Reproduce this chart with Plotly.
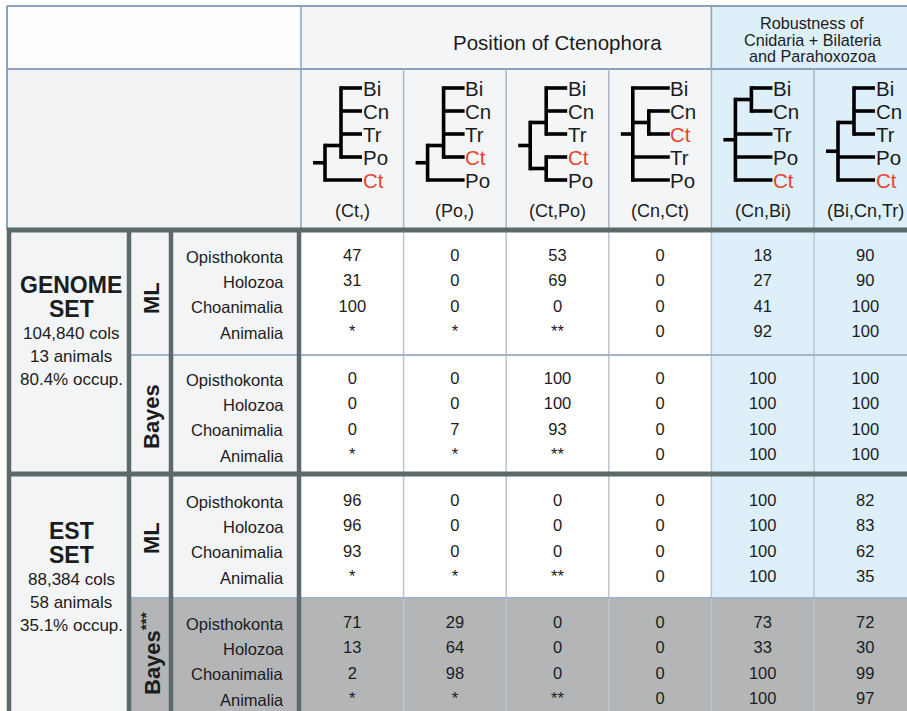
import plotly.graph_objects as go

# ---------------- data ----------------
header_title = "Position of Ctenophora"
robust_title = ["Robustness of", "Cnidaria + Bilateria", "and Parahoxozoa"]
tree_captions = ["(Ct,)", "(Po,)", "(Ct,Po)", "(Cn,Ct)", "(Cn,Bi)", "(Bi,Cn,Tr)"]
tree_topologies = [
    [["Bi", "Cn", "Tr", "Po"], "Ct"],
    [["Bi", "Cn", "Tr", "Ct"], "Po"],
    [["Bi", "Cn", "Tr"], ["Ct", "Po"]],
    ["Bi", ["Cn", "Ct"], "Tr", "Po"],
    [["Bi", "Cn"], "Tr", "Po", "Ct"],
    [["Bi", "Cn", "Tr"], "Po", "Ct"],
]
highlight_taxon = "Ct"
outgroups = ["Opisthokonta", "Holozoa", "Choanimalia", "Animalia"]
set_names = [["GENOME", "SET"], ["EST", "SET"]]
genome_info = ["104,840 cols", "13 animals", "80.4% occup."]
est_info = ["88,384 cols", "58 animals", "35.1% occup."]
methods = ["ML", "Bayes", "ML", "Bayes<sup>***</sup>"]

# support values, 16 rows each: GENOME-ML, GENOME-Bayes, EST-ML, EST-Bayes (x 4 outgroups)
vals_ct = ["47", "31", "100", "*", "0", "0", "0", "*", "96", "96", "93", "*", "71", "13", "2", "*"]
vals_po = ["0", "0", "0", "*", "0", "0", "7", "*", "0", "0", "0", "*", "29", "64", "98", "*"]
vals_ctpo = ["53", "69", "0", "**", "100", "100", "93", "**", "0", "0", "0", "**", "0", "0", "0", "**"]
vals_cnct = ["0", "0", "0", "0", "0", "0", "0", "0", "0", "0", "0", "0", "0", "0", "0", "0"]
vals_cnbi = ["18", "27", "41", "92", "100", "100", "100", "100", "100", "100", "100", "100", "73", "33", "100", "100"]
vals_bicntr = ["90", "90", "100", "100", "100", "100", "100", "100", "82", "83", "62", "35", "72", "30", "99", "97"]
columns = [vals_ct, vals_po, vals_ctpo, vals_cnct, vals_cnbi, vals_bicntr]

# ---------------- style / layout constants ----------------
W, H = 907, 711
FONT = "Liberation Sans, Arial, sans-serif"
TXT = "#1c1c1c"
RED = "#e8432d"
DARK = "#5b6969"
HDR_LINE = "#8ba2bd"
GRID = "#bcc6d0"
SEP = "#a2b5c8"
LIGHT = "#f3f4f6"
BLUE = "#ddeff9"
GRAY = "#b3b5b7"

X0 = 7
LEFT_R = 129
ML_R = 171
LAB_R = 299
COL0 = 301
COL_W = 102.6
NCOL = 6
col_left = [COL0 + i * COL_W for i in range(NCOL)]
col_center = [c + COL_W / 2 for c in col_left]

Y_TOP = 6
Y_H1 = 69
Y_H2 = 230
Y_MID = 474
Y_SEP = [355, 598]
block_row0 = [257, 380, 502, 624]
ROW_STEP = 25.2

shapes = []


def rect(x0, y0, x1, y1, color):
    shapes.append(dict(type="rect", x0=x0, y0=y0, x1=x1, y1=y1, xref="x", yref="y",
                       line=dict(width=0), fillcolor=color, layer="below"))


def line(x0, y0, x1, y1, color, width):
    shapes.append(dict(type="line", x0=x0, y0=y0, x1=x1, y1=y1, xref="x", yref="y",
                       line=dict(color=color, width=width), layer="above"))


annotations = []


def text(x, y, s, size, color=TXT, bold=False, anchor="center", angle=0):
    if bold:
        s = "<b>" + s + "</b>"
    annotations.append(dict(x=x, y=y, xref="x", yref="y", text=s, showarrow=False,
                            xanchor=anchor, yanchor="middle", textangle=angle,
                            font=dict(family=FONT, size=size, color=color)))


# ---------------- backgrounds ----------------
blue_x = col_left[4]
rect(X0, Y_TOP, COL0, Y_H1, "#fdfdfd")
rect(COL0, Y_TOP, blue_x, Y_H2, "#f4f5f7")
rect(blue_x, Y_TOP, W, Y_H2, BLUE)
rect(X0, Y_H1, COL0, Y_H2, "#f2f3f5")
rect(X0, Y_H2, LAB_R, H, LIGHT)
rect(COL0, Y_H2, blue_x, H, "white")
rect(blue_x, Y_H2, W, H, BLUE)
rect(LEFT_R, Y_SEP[1], W, H, GRAY)

# ---------------- header lines ----------------
line(X0, Y_TOP, W, Y_TOP, HDR_LINE, 2)
line(X0, Y_H1, W, Y_H1, HDR_LINE, 2)
line(X0, Y_TOP, X0, Y_H2, HDR_LINE, 2)
line(COL0, Y_TOP, COL0, Y_H2, HDR_LINE, 1.5)
line(blue_x, Y_TOP, blue_x, Y_H1, HDR_LINE, 1.5)
for i in range(1, NCOL):
    line(col_left[i], Y_H1, col_left[i], Y_H2, "#aab6c2", 1.5)
    line(col_left[i], Y_H2, col_left[i], H, GRID, 1.5)

# ML / Bayes separators
for ys in Y_SEP:
    line(ML_R, ys, W, ys, SEP, 2)
    line(LEFT_R, ys, ML_R, ys, SEP, 2)

# thick dark frame lines
for xv in [X0 + 2, LEFT_R, ML_R, LAB_R]:
    line(xv, Y_H2, xv, H, DARK, 4.5)
line(X0, Y_H2, W, Y_H2, DARK, 5)
line(X0, Y_MID, W, Y_MID, DARK, 5)

# ---------------- header texts ----------------
text(557, 42, header_title, 20.5)
for k, s in enumerate(robust_title):
    text(812, 23 + k * 16.5, s, 16.2)

# ---------------- trees ----------------
TIP_TOP = 88
TIP_STEP = 23
TIP_OFF = 60
ROOT_OFF = 12
V0_OFF = 24
DV = 16
TREE_LW = 3.6


def draw_tree(topo, left):
    counter = [0]
    tip_x = left + TIP_OFF

    def rec(node, depth):
        if isinstance(node, str):
            y = TIP_TOP + counter[0] * TIP_STEP
            counter[0] += 1
            col = RED if node == highlight_taxon else TXT
            text(tip_x - 0.5, y, node, 20.5, color=col, anchor="left")
            return y, None
        vx = left + V0_OFF + DV * depth
        kids = [rec(c, depth + 1) for c in node]
        ys = [k[0] for k in kids]
        line(vx, min(ys) - TREE_LW / 2, vx, max(ys) + TREE_LW / 2, "black", TREE_LW)
        for (cy, cvx) in kids:
            line(vx, cy, tip_x + 1 if cvx is None else cvx, cy, "black", TREE_LW)
        if depth == 0:
            ny = (ys[0] + ys[-1]) / 2
        else:
            ny = (ys[-2] + ys[-1]) / 2
        return ny, vx

    ry, rvx = rec(topo, 0)
    line(left + ROOT_OFF, ry, rvx, ry, "black", TREE_LW)


for i, topo in enumerate(tree_topologies):
    draw_tree(topo, col_left[i])
    text(col_center[i], 211, tree_captions[i], 18)

# ---------------- left panels ----------------
LEFT_CX = (X0 + LEFT_R) / 2 + 3
info_sets = [genome_info, est_info]
name_y0 = [285, 531]
for s in range(2):
    y = name_y0[s]
    for nm in set_names[s]:
        text(LEFT_CX, y, nm, 23, bold=True)
        y += 24
    for inf in info_sets[s]:
        text(LEFT_CX, y, inf, 17)
        y += 23

method_y = [298, 417, 538, 654]
for m, yc in zip(methods, method_y):
    text(151, yc, m, 22, bold=True, angle=-90)

# outgroup labels
for b in range(4):
    for r, og in enumerate(outgroups):
        text(286, block_row0[b] + r * ROW_STEP, og, 16.5, anchor="right")

# ---------------- values ----------------
fig = go.Figure()
for c, vals in enumerate(columns):
    ys = [block_row0[i // 4] + (i % 4) * ROW_STEP for i in range(len(vals))]
    fig.add_trace(go.Scatter(
        x=[col_center[c]] * len(vals), y=ys, mode="text", text=vals,
        textposition="middle center",
        textfont=dict(family=FONT, size=16.5, color=TXT),
        hoverinfo="skip", showlegend=False))

fig.update_layout(
    width=W, height=H, margin=dict(l=0, r=0, t=0, b=0),
    paper_bgcolor="white", plot_bgcolor="white",
    xaxis=dict(range=[0, W], visible=False, fixedrange=True),
    yaxis=dict(range=[H, 0], visible=False, fixedrange=True),
    shapes=shapes, annotations=annotations, showlegend=False,
)
fig.write_html("out.html", config={"displayModeBar": False},
               post_script="document.body.style.margin='0px';document.body.style.overflow='hidden';")
